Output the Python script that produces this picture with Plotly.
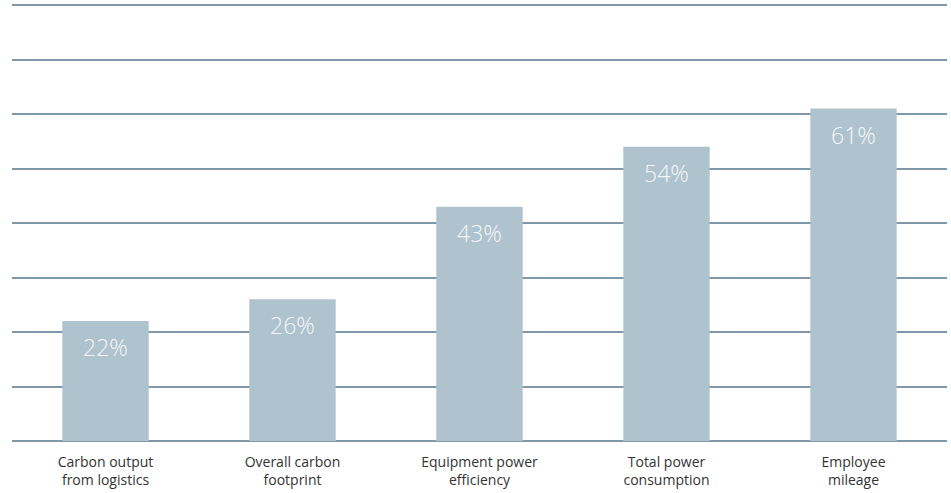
import plotly.graph_objects as go

categories = ["Carbon output<br>from logistics", "Overall carbon<br>footprint",
              "Equipment power<br>efficiency", "Total power<br>consumption", "Employee<br>mileage"]
values = [22, 26, 43, 54, 61]
labels = ["22%", "26%", "43%", "54%", "61%"]

BAR = "#afc3ce"
GRID = "#7f99ab"

fig = go.Figure()
fig.add_trace(go.Bar(x=categories, y=values, marker_color=BAR, width=0.462,
                     marker_line_width=0, hoverinfo="skip"))
for c, v, t in zip(categories, values, labels):
    fig.add_annotation(x=c, y=v, text=t, showarrow=False, yanchor="top", yshift=-8,
                       font=dict(family="Open Sans", size=23, color="#f4f7f9", weight=300))

fig.update_layout(
    width=951, height=493, margin=dict(l=12, r=4, t=2, b=52),
    plot_bgcolor="white", paper_bgcolor="white", showlegend=False,
    font=dict(family="Open Sans", size=14, color="#333333"),
)
fig.update_xaxes(showgrid=False, showline=False, ticks="", tickfont=dict(size=14, color="#333333"),
                 ticklabelstandoff=11)
fig.update_yaxes(range=[0, 80.55], dtick=10, showgrid=True, gridcolor=GRID, gridwidth=2,
                 zeroline=True, zerolinecolor=GRID, zerolinewidth=2,
                 showticklabels=False, showline=False)
fig.write_html("out.html")
